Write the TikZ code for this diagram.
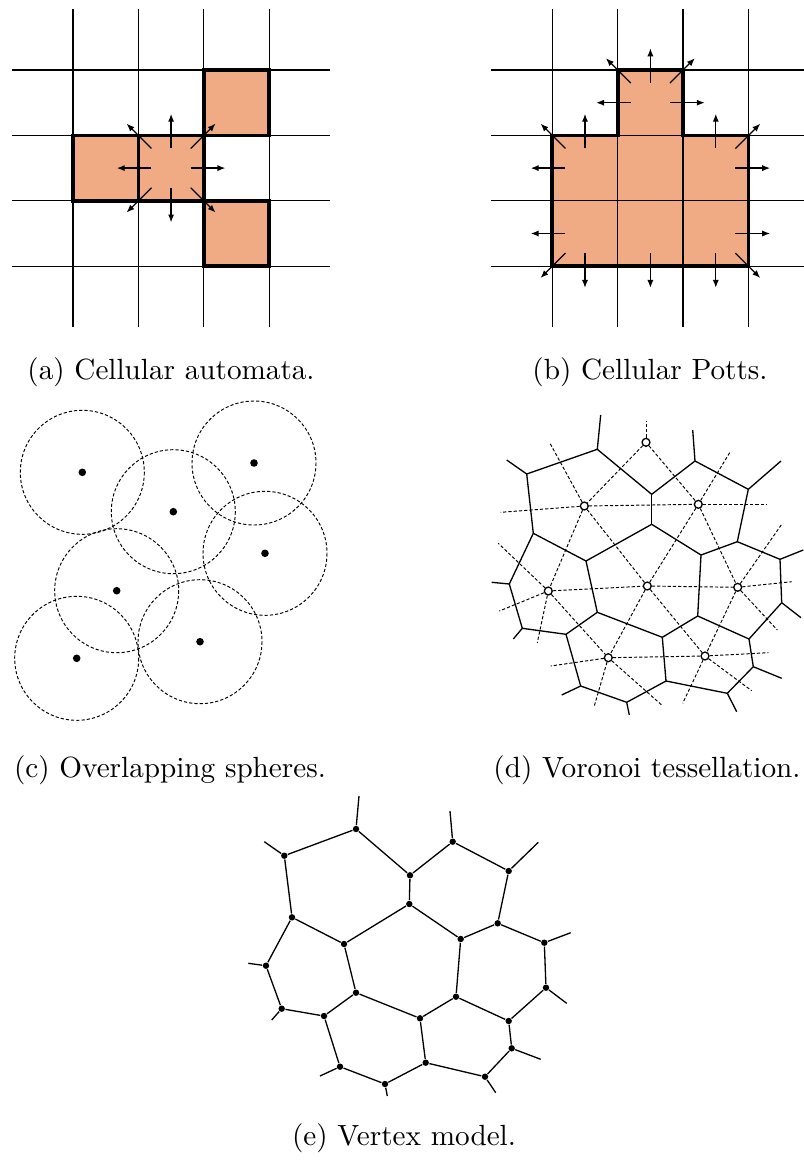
\documentclass[tikz,border=0pt]{standalone}
\usepackage{tikz}
\usetikzlibrary{arrows.meta}

\definecolor{cellcolor}{RGB}{240,170,132}

% cell walls shared by the tessellation and the vertex model
\newcommand\cellwalls{A/B,A/C,A/rA,B/G,B/rB,C/D,C/F,D/E,D/rD,E/H,E/rE,
  F/I,F/J,G/I,G/K,H/J,H/L,I/M,J/N,K/P,K/rK,L/O,L/rL,M/Q,M/R,N/R,N/S,
  O/S,O/rO,P/Q,P/rP,Q/U,R/V,S/T,T/X,T/rT,U/W,U/rU,V/W,V/X,W/rW,X/rX}

\begin{document}
\begin{tikzpicture}[
  x=0.3425pt, y=-0.3425pt,
  gridline/.style={line width=0.42pt},
  celledge/.style={line width=1.3pt},
  move/.style={-{Latex[length=2.7pt,width=2.1pt]}, line width=0.42pt},
  sphere/.style={dash pattern=on 1.1pt off 0.7pt, line width=0.33pt},
  centre/.style={circle, fill, inner sep=0pt, minimum size=2.6pt},
  seed/.style={circle, draw, fill=white, inner sep=0pt, minimum size=2.7pt,
               line width=0.45pt},
  link/.style={dash pattern=on 1.1pt off 0.7pt, line width=0.33pt},
  wall/.style={line width=0.45pt},
  vtx/.style={circle, fill, inner sep=0pt, minimum size=2.2pt},
  caption/.style={font=\normalsize}
]
\useasboundingbox (0,0) rectangle (804,1163);

% (a) cellular automata
\begin{scope}[shift={(73,70)}, scale=65.4]
  \fill[cellcolor] (2,0) rectangle (3,1) (0,1) rectangle (2,2) (2,2) rectangle (3,3);
  \foreach \i in {0,...,3} {
    \draw[gridline] (\i,-0.93) -- (\i,3.93);
    \draw[gridline] (-0.93,\i) -- (3.93,\i);
  }
  \draw[celledge] (2,0) rectangle (3,1) (0,1) rectangle (1,2)
                  (1,1) rectangle (2,2) (2,2) rectangle (3,3);
  \foreach \dx/\dy in {1/0,-1/0,0/1,0/-1}
    \draw[move] (1.5+0.3*\dx,1.5+0.3*\dy) -- (1.5+0.83*\dx,1.5+0.83*\dy);
  \foreach \dx/\dy in {1/1,1/-1,-1/1,-1/-1}
    \draw[move] (1.5+0.3*\dx,1.5+0.3*\dy) -- (1.5+0.68*\dx,1.5+0.68*\dy);
\end{scope}
\node[caption] (capa) at (171,372) {(a) Cellular automata.};

% (b) cellular Potts
\begin{scope}[shift={(552.3,70)}, scale=65.4]
  \fill[cellcolor] (1,0) rectangle (2,1) (0,1) rectangle (3,3);
  \foreach \i in {0,...,3} {
    \draw[gridline] (\i,-0.93) -- (\i,3.93);
    \draw[gridline] (-0.93,\i) -- (3.93,\i);
  }
  \draw[celledge] (0,1) -- (1,1) -- (1,0) -- (2,0) -- (2,1) -- (3,1)
                  -- (3,3) -- (0,3) -- cycle;
  \foreach \cx/\cy/\dx/\dy in {1/0/0/-1,1/0/-1/0,1/0/1/0,0/1/0/-1,0/1/-1/0,
      2/1/0/-1,2/1/1/0,0/2/-1/0,0/2/0/1,1/2/0/1,2/2/1/0,2/2/0/1}
    \draw[move] (\cx+0.5+0.3*\dx,\cy+0.5+0.3*\dy)
             -- (\cx+0.5+0.83*\dx,\cy+0.5+0.83*\dy);
  \foreach \cx/\cy/\dx/\dy in {1/0/-1/-1,1/0/1/-1,0/1/-1/-1,2/1/1/-1,
      0/2/-1/1,2/2/1/1}
    \draw[move] (\cx+0.5+0.3*\dx,\cy+0.5+0.3*\dy)
             -- (\cx+0.5+0.68*\dx,\cy+0.5+0.68*\dy);
\end{scope}
\node[caption] (capb) at (650,372) {(b) Cellular Potts.};

% (c) overlapping spheres
\node[centre] (c1) at (82.3,472.3) {};
\node[centre] (c2) at (173.3,511.7) {};
\node[centre] (c3) at (254,463) {};
\node[centre] (c4) at (265,553.3) {};
\node[centre] (c5) at (116.7,590.7) {};
\node[centre] (c6) at (200,641.7) {};
\node[centre] (c7) at (76.7,658.3) {};
\foreach \n in {1,...,7}
  \draw[sphere] (c\n) circle (62);
\node[caption] (capc) at (170,770) {(c) Overlapping spheres.};

% (d) Voronoi tessellation
\coordinate (dA) at (597.3,449.3);
\coordinate (dB) at (526.7,474);
\coordinate (dC) at (651.7,494.3);
\coordinate (dD) at (695,461);
\coordinate (dE) at (748.3,489.3);
\coordinate (dF) at (651.7,524.3);
\coordinate (dG) at (533.3,533.3);
\coordinate (dH) at (737.3,541.7);
\coordinate (dI) at (586,561);
\coordinate (dJ) at (701,555);
\coordinate (dK) at (509.3,584);
\coordinate (dL) at (780,559.3);
\coordinate (dM) at (597.3,612.3);
\coordinate (dN) at (697.7,616);
\coordinate (dO) at (781.7,602.7);
\coordinate (dP) at (522.3,628.3);
\coordinate (dQ) at (566,634.3);
\coordinate (dR) at (662.3,637.3);
\coordinate (dS) at (749,639);
\coordinate (dT) at (753.3,666.7);
\coordinate (dU) at (580.7,686);
\coordinate (dV) at (666,681);
\coordinate (dW) at (626.7,702.3);
\coordinate (dX) at (727.3,693.3);
\coordinate (drA) at (600.7,415);
\coordinate (drB) at (506.7,460);
\coordinate (drD) at (692.7,430);
\coordinate (drE) at (781,461);
\coordinate (drK) at (491.7,582.3);
\coordinate (drL) at (803.3,550);
\coordinate (drO) at (801,617.7);
\coordinate (drP) at (513.3,639);
\coordinate (drT) at (781.7,678.3);
\coordinate (drU) at (561.7,695);
\coordinate (drW) at (629.3,715);
\coordinate (drX) at (736.7,711.7);

\node[seed] (s1) at (646,442.3) {};
\node[seed] (s2) at (584.3,506) {};
\node[seed] (s3) at (698.3,504.3) {};
\node[seed] (s4) at (548.3,591) {};
\node[seed] (s5) at (647.3,586) {};
\node[seed] (s6) at (737.7,587.3) {};
\node[seed] (s7) at (608.3,657.7) {};
\node[seed] (s8) at (705,656) {};
\coordinate (g1) at (646,420.7);
\coordinate (g2) at (500.7,512.3);
\coordinate (g3) at (550,443.3);
\coordinate (g4) at (766.7,504.3);
\coordinate (g5) at (730.7,451);
\coordinate (g6) at (498.3,543.3);
\coordinate (g7) at (499.3,611);
\coordinate (g8) at (537.3,642.7);
\coordinate (g9) at (791.7,581.7);
\coordinate (g10) at (781.7,524.3);
\coordinate (g11) at (777.3,630);
\coordinate (g12) at (550.7,666);
\coordinate (g13) at (594.3,706);
\coordinate (g14) at (661.7,705);
\coordinate (g15) at (768.3,652.7);
\coordinate (g16) at (751.7,690.7);
\coordinate (g17) at (682.7,703.3);

\foreach \a/\b in {s1/g1,s1/s2,s1/s3,s2/g2,s2/g3,s2/s3,s2/s4,s2/s5,
    s3/g4,s3/g5,s3/s5,s3/s6,s4/g6,s4/g7,s4/g8,s4/s5,s4/s7,s5/s6,s5/s7,
    s5/s8,s6/g9,s6/g10,s6/g11,s6/s8,s7/g12,s7/g13,s7/g14,s7/s8,
    s8/g15,s8/g16,s8/g17}
  \draw[link] (\a) -- (\b);
\foreach \a/\b in \cellwalls
  \draw[wall] (d\a) -- (d\b);
\node[caption] (capd) at (647,770) {(d) Voronoi tessellation.};

% (e) vertex model
\node[vtx] (eA) at (356,829) {};
\node[vtx] (eB) at (284.3,855.7) {};
\node[vtx] (eC) at (410,875.3) {};
\node[vtx] (eD) at (452.7,841.7) {};
\node[vtx] (eE) at (508.7,871) {};
\node[vtx] (eF) at (409.3,904) {};
\node[vtx] (eG) at (292,917.3) {};
\node[vtx] (eH) at (497.7,923.3) {};
\node[vtx] (eI) at (344,944) {};
\node[vtx] (eJ) at (460.7,939) {};
\node[vtx] (eK) at (266,965.7) {};
\node[vtx] (eL) at (544.3,942.7) {};
\node[vtx] (eM) at (356,992.7) {};
\node[vtx] (eN) at (456,996.7) {};
\node[vtx] (eO) at (546,987.7) {};
\node[vtx] (eP) at (281.7,1008.7) {};
\node[vtx] (eQ) at (324,1016) {};
\node[vtx] (eR) at (420,1018.3) {};
\node[vtx] (eS) at (508.7,1021) {};
\node[vtx] (eT) at (511.7,1048.3) {};
\node[vtx] (eU) at (340,1066.7) {};
\node[vtx] (eV) at (425.7,1062.7) {};
\node[vtx] (eW) at (385,1084) {};
\node[vtx] (eX) at (485,1076.7) {};
\coordinate (erA) at (359,796);
\coordinate (erB) at (264.3,841.7);
\coordinate (erD) at (450,811);
\coordinate (erE) at (538.3,842.3);
\coordinate (erK) at (248.3,963.3);
\coordinate (erL) at (570.7,932.7);
\coordinate (erO) at (566.7,1003.3);
\coordinate (erP) at (271.7,1020);
\coordinate (erT) at (540.7,1059.3);
\coordinate (erU) at (320,1076);
\coordinate (erW) at (387.3,1096);
\coordinate (erX) at (495.7,1092.7);
\foreach \a/\b in \cellwalls
  \draw[wall] (e\a) -- (e\b);
\node[caption] (cape) at (404,1138) {(e) Vertex model.};

\end{tikzpicture}
\end{document}
